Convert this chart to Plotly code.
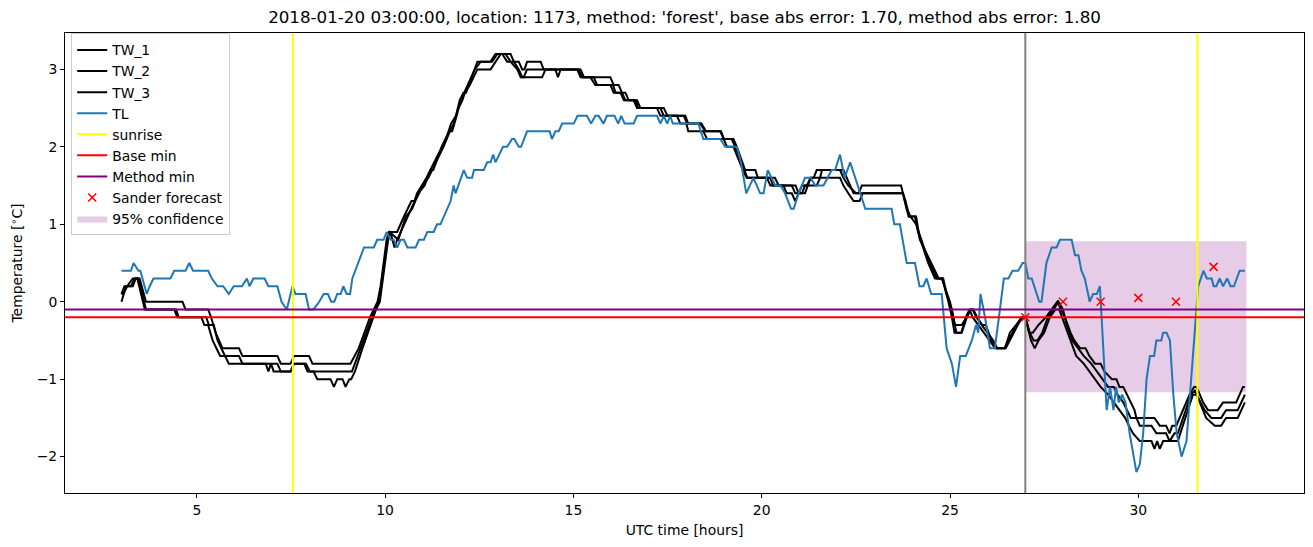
import plotly.graph_objects as go

# ---------------- data ----------------
tl_hours = [3.0,3.25,3.32,3.45,3.5,3.67,3.75,3.85,4.3,4.4,4.7,4.8,4.9,5.3,5.4,5.55,5.7,5.85,5.98,6.2,6.33,6.4,6.5,6.8,6.9,7.14,7.25,7.39,7.54,7.62,7.89,7.98,8.1,8.25,8.37,8.48,8.57,8.65,8.73,8.82,8.89,8.98,9.07,9.13,9.44,9.7,9.79,9.96,10.04,10.15,10.23,10.32,10.41,10.5,10.59,10.81,10.9,11.03,11.12,11.29,11.38,11.47,11.74,11.82,11.87,12.09,12.18,12.31,12.36,12.62,12.71,12.8,12.87,12.93,13.13,13.24,13.37,13.43,13.55,13.61,13.77,14.37,14.43,14.52,14.61,14.7,15.01,15.11,15.36,15.47,15.58,15.67,15.8,15.89,16.09,16.19,16.27,16.36,16.6,16.69,17.22,17.31,17.4,17.49,17.57,17.64,18.32,18.45,18.9,19.03,19.34,19.45,19.59,19.78,19.96,20.05,20.16,20.36,20.5,20.62,20.78,20.85,20.98,21.15,21.3,21.42,21.64,21.86,21.95,22.08,22.2,22.35,22.55,22.62,22.75,23.45,23.52,23.67,23.85,24.07,24.19,24.29,24.38,24.5,24.78,24.91,25.05,25.16,25.27,25.42,25.58,25.69,25.75,25.81,25.93,26.06,26.19,26.3,26.43,26.55,26.66,26.81,26.93,27.0,27.08,27.17,27.3,27.37,27.43,27.56,27.7,27.83,27.92,28.23,28.32,28.41,28.49,28.58,28.71,28.8,28.9,28.98,29.16,29.25,29.34,29.41,29.48,29.57,29.66,29.77,29.95,30.04,30.13,30.22,30.31,30.42,30.48,30.61,30.66,30.75,30.84,30.93,31.02,31.15,31.28,31.41,31.5,31.59,31.73,31.82,31.95,32.0,32.07,32.16,32.25,32.36,32.45,32.54,32.69,32.83]
tl_temp = [0.4,0.4,0.5,0.4,0.4,0.1,0.2,0.3,0.3,0.4,0.4,0.5,0.4,0.4,0.3,0.2,0.2,0.1,0.2,0.2,0.3,0.2,0.3,0.3,0.2,0.2,0.0,-0.1,0.2,0.1,0.1,-0.1,-0.1,0.0,0.1,0.1,0.0,0.0,0.1,0.1,0.2,0.1,0.1,0.3,0.7,0.7,0.8,0.8,0.9,0.8,0.8,0.7,0.8,0.8,0.7,0.7,0.8,0.8,0.9,0.9,1.0,1.0,1.3,1.5,1.4,1.7,1.6,1.6,1.7,1.7,1.8,1.8,1.9,1.8,2.0,2.0,2.1,2.1,2.0,2.0,2.2,2.2,2.1,2.2,2.2,2.3,2.3,2.4,2.4,2.3,2.4,2.4,2.3,2.4,2.4,2.3,2.4,2.3,2.3,2.4,2.4,2.3,2.4,2.3,2.4,2.3,2.3,2.1,2.1,2.0,2.0,1.8,1.4,1.6,1.4,1.4,1.7,1.5,1.5,1.4,1.2,1.2,1.4,1.6,1.6,1.5,1.5,1.7,1.7,1.9,1.6,1.8,1.5,1.4,1.2,1.2,1.0,1.0,0.5,0.5,0.2,0.2,0.3,0.1,0.1,-0.6,-0.8,-1.1,-0.7,-0.7,-0.5,-0.3,-0.4,0.1,-0.2,-0.6,-0.6,-0.2,0.3,0.3,0.4,0.4,0.5,0.5,0.3,0.3,0.1,0.0,0.0,0.5,0.7,0.7,0.8,0.8,0.6,0.6,0.4,0.3,0.0,0.1,0.1,0.2,-1.4,-1.1,-1.4,-1.1,-1.3,-1.2,-1.3,-1.7,-2.2,-2.1,-1.7,-1.0,-0.7,-0.7,-0.5,-0.5,-0.4,-0.4,-0.5,-1.2,-1.7,-2.0,-1.8,-1.0,-0.35,0.2,0.4,0.3,0.3,0.2,0.2,0.3,0.2,0.3,0.2,0.2,0.4,0.4]

tw1_hours = [3.0,3.08,3.3,3.38,3.48,3.58,3.65,4.62,4.7,5.3,5.38,5.5,5.6,5.68,6.12,6.21,7.14,7.23,7.49,7.58,7.98,8.07,9.08,9.3,9.45,9.6,9.7,9.8,9.88,9.96,10.04,10.1,10.32,10.5,10.7,10.78,10.85,11.1,11.2,11.28,11.5,11.7,11.78,11.9,12.0,12.1,12.2,12.3,12.38,12.54,12.8,12.93,13.33,13.42,13.55,13.64,13.7,13.77,14.13,14.21,15.14,15.23,15.54,15.63,15.98,16.07,16.25,16.34,16.6,16.69,17.22,17.31,17.93,18.02,18.37,18.5,18.9,18.99,19.25,19.34,19.42,19.48,19.56,19.83,19.9,20.14,20.23,20.8,20.89,20.98,21.07,21.2,21.3,21.38,21.46,22.17,22.25,22.35,22.44,22.57,22.66,23.7,23.8,23.9,24.07,24.15,24.42,24.5,24.6,24.78,24.86,25.0,25.13,25.31,25.44,25.53,25.6,25.7,25.84,26.0,26.15,26.25,26.45,26.55,26.65,26.77,26.9,27.0,27.1,27.2,27.35,27.55,27.7,27.85,27.95,28.05,28.2,28.3,28.45,28.6,28.7,28.85,29.0,29.1,29.3,29.42,29.5,29.6,29.7,29.8,29.9,29.95,30.43,30.57,30.74,30.83,30.9,31.01,31.36,31.48,31.55,31.72,31.85,32.11,32.25,32.6,32.78,32.83]
tw1_temp = [0.1,0.2,0.2,0.3,0.3,0.1,0.0,0.0,-0.1,-0.1,-0.2,-0.4,-0.5,-0.6,-0.6,-0.7,-0.7,-0.8,-0.8,-0.7,-0.7,-0.8,-0.8,-0.6,-0.4,-0.2,-0.1,0.0,0.2,0.5,0.8,0.9,0.9,1.1,1.3,1.3,1.4,1.6,1.7,1.7,2.0,2.2,2.2,2.4,2.6,2.7,2.8,2.9,3.0,3.1,3.1,3.2,3.2,3.1,3.1,3.0,3.0,3.1,3.1,3.0,3.0,2.9,2.9,2.8,2.8,2.7,2.7,2.6,2.6,2.5,2.5,2.4,2.4,2.3,2.3,2.2,2.2,2.1,2.1,2.0,1.9,1.8,1.7,1.7,1.6,1.6,1.5,1.5,1.4,1.4,1.5,1.5,1.6,1.6,1.7,1.7,1.6,1.5,1.4,1.4,1.5,1.5,1.3,1.1,1.1,0.9,0.5,0.4,0.3,0.3,0.2,0.0,-0.3,-0.3,-0.2,-0.1,-0.1,-0.2,-0.3,-0.4,-0.5,-0.6,-0.6,-0.5,-0.4,-0.3,-0.2,-0.2,-0.4,-0.4,-0.3,-0.2,-0.1,0.0,-0.1,-0.2,-0.4,-0.5,-0.6,-0.6,-0.7,-0.8,-0.8,-0.9,-1.0,-1.0,-1.1,-1.1,-1.2,-1.3,-1.4,-1.5,-1.5,-1.6,-1.6,-1.7,-1.6,-1.6,-1.2,-1.1,-1.1,-1.3,-1.4,-1.4,-1.3,-1.3,-1.1,-1.1]

tw2_hours = [3.0,3.12,3.25,3.35,3.45,3.55,3.65,4.4,4.48,5.12,5.2,5.3,5.42,5.52,5.62,6.12,6.21,7.14,7.23,7.49,7.58,7.9,8.0,9.12,9.35,9.5,9.65,9.73,9.83,9.9,9.98,10.06,10.12,10.35,10.55,10.72,10.8,11.0,11.15,11.25,11.45,11.55,11.72,11.82,11.95,12.05,12.12,12.25,12.35,12.45,12.8,12.93,13.07,13.2,13.33,13.51,13.6,13.68,13.77,14.52,14.59,14.66,15.19,15.28,15.98,16.07,16.2,16.29,16.38,16.69,16.78,17.31,17.4,17.75,17.84,18.0,18.05,18.45,18.55,18.99,19.08,19.25,19.33,19.4,19.5,19.6,20.35,20.45,20.58,20.66,20.8,20.89,20.98,21.15,21.22,21.3,22.08,22.17,22.3,22.44,22.6,22.68,23.75,23.85,23.95,24.1,24.45,24.55,24.65,24.8,24.9,25.05,25.17,25.31,25.45,25.55,25.62,25.72,25.86,25.95,26.1,26.23,26.46,26.59,26.75,26.92,27.0,27.12,27.22,27.32,27.45,27.6,27.75,27.88,28.0,28.1,28.25,28.4,28.55,28.75,28.9,29.05,29.2,29.35,29.45,29.6,29.7,29.8,29.95,30.04,30.35,30.48,30.74,30.83,30.96,31.05,31.4,31.5,31.55,31.76,31.94,32.2,32.33,32.64,32.83]
tw2_temp = [0.0,0.2,0.2,0.3,0.3,0.1,-0.1,-0.1,-0.2,-0.2,-0.3,-0.3,-0.5,-0.6,-0.7,-0.7,-0.8,-0.8,-0.9,-0.9,-0.8,-0.8,-0.9,-0.9,-0.6,-0.4,-0.2,-0.1,0.0,0.2,0.5,0.8,0.9,0.8,1.1,1.2,1.3,1.5,1.6,1.7,1.9,2.0,2.2,2.3,2.5,2.6,2.7,2.8,2.9,3.0,3.0,3.1,3.2,3.2,3.1,3.0,2.9,2.9,3.0,3.0,2.9,3.0,3.0,2.9,2.9,2.8,2.8,2.7,2.6,2.6,2.5,2.5,2.4,2.4,2.3,2.3,2.2,2.2,2.1,2.1,2.0,2.0,1.9,1.8,1.7,1.6,1.6,1.5,1.5,1.4,1.4,1.3,1.4,1.4,1.5,1.6,1.6,1.5,1.4,1.3,1.3,1.4,1.4,1.2,1.1,1.0,0.5,0.4,0.3,0.3,0.1,-0.1,-0.4,-0.4,-0.2,-0.1,-0.1,-0.2,-0.3,-0.3,-0.5,-0.6,-0.6,-0.4,-0.3,-0.2,-0.2,-0.4,-0.5,-0.5,-0.4,-0.2,-0.1,0.0,-0.1,-0.3,-0.5,-0.6,-0.7,-0.8,-0.9,-1.0,-1.1,-1.1,-1.2,-1.3,-1.4,-1.5,-1.5,-1.6,-1.6,-1.7,-1.7,-1.8,-1.7,-1.7,-1.2,-1.15,-1.2,-1.4,-1.5,-1.5,-1.4,-1.4,-1.2]

tw3_hours = [3.0,3.05,3.15,3.3,3.42,3.52,3.62,4.45,4.52,5.25,5.32,5.45,5.55,5.65,5.75,5.85,6.83,6.9,6.97,7.04,7.49,7.58,7.85,7.94,8.1,8.2,8.55,8.64,8.73,8.87,8.95,9.05,9.1,9.2,9.4,9.55,9.68,9.76,9.86,9.92,10.0,10.08,10.14,10.2,10.25,10.32,10.5,10.68,10.88,11.05,11.2,11.3,11.5,11.62,11.75,11.88,11.98,12.08,12.15,12.22,12.3,12.45,12.84,12.98,13.11,13.24,13.42,13.55,13.64,14.17,14.26,15.1,15.19,15.45,15.58,16.05,16.12,16.38,16.47,16.65,16.72,17.4,17.5,17.97,18.05,18.4,18.52,18.92,19.0,19.2,19.3,19.38,19.45,19.52,19.62,20.23,20.3,20.9,20.98,21.07,21.15,21.46,21.55,21.6,22.08,22.17,22.3,22.5,22.75,23.75,23.82,23.92,24.1,24.2,24.4,24.5,24.58,24.7,24.82,24.92,25.05,25.12,25.3,25.42,25.52,25.6,25.75,25.9,26.05,26.2,26.48,26.58,26.7,26.8,26.92,27.0,27.15,27.25,27.35,27.5,27.65,27.8,27.9,28.05,28.2,28.35,28.55,28.7,28.85,29.0,29.2,29.35,29.5,29.65,29.75,29.86,30.04,30.35,30.43,30.5,30.57,30.66,30.96,31.05,31.45,31.55,31.8,32.03,32.2,32.33,32.64,32.73,32.83]
tw3_temp = [0.1,0.1,0.2,0.3,0.3,0.1,-0.1,-0.1,-0.2,-0.2,-0.3,-0.3,-0.5,-0.6,-0.7,-0.8,-0.8,-0.9,-0.8,-0.9,-0.9,-0.8,-0.8,-0.9,-0.9,-1.0,-1.0,-1.1,-1.0,-1.0,-1.1,-1.0,-1.0,-0.9,-0.6,-0.4,-0.2,-0.1,0.0,0.2,0.5,0.8,0.9,0.8,0.7,0.8,1.0,1.2,1.4,1.5,1.7,1.8,2.0,2.1,2.3,2.4,2.6,2.7,2.7,2.8,2.9,3.1,3.1,3.2,3.2,3.1,3.1,3.0,2.9,2.9,3.0,3.0,2.9,2.9,2.8,2.8,2.7,2.7,2.6,2.6,2.5,2.5,2.4,2.4,2.3,2.3,2.2,2.2,2.1,2.1,2.0,1.9,1.8,1.7,1.6,1.6,1.5,1.5,1.4,1.4,1.5,1.5,1.6,1.7,1.7,1.6,1.5,1.4,1.4,1.4,1.3,1.1,1.1,0.8,0.6,0.5,0.4,0.3,0.3,0.1,-0.2,-0.4,-0.4,-0.2,-0.1,-0.2,-0.3,-0.4,-0.5,-0.6,-0.6,-0.5,-0.4,-0.3,-0.2,-0.2,-0.5,-0.6,-0.5,-0.4,-0.2,-0.1,-0.1,-0.3,-0.5,-0.7,-0.8,-0.9,-1.0,-1.1,-1.2,-1.3,-1.4,-1.5,-1.6,-1.7,-1.8,-1.8,-1.9,-1.8,-1.9,-1.8,-1.8,-1.8,-1.2,-1.2,-1.5,-1.6,-1.6,-1.5,-1.5,-1.4,-1.3]

sunrise_hours = [7.55, 31.57]
now_hour = 27.0
base_min = -0.2
method_min = -0.1
sander_hours = [27, 28, 29, 30, 31, 32]
sander_temp = [-0.2, 0.0, 0.0, 0.05, 0.0, 0.45]
conf_hours = [27.0, 32.87]
conf_low, conf_high = -1.17, 0.78

x_range = [1.5, 34.4]
y_range = [-2.47, 3.47]
x_ticks = [5, 10, 15, 20, 25, 30]
y_ticks = [-2, -1, 0, 1, 2, 3]
title_text = "2018-01-20 03:00:00, location: 1173, method: 'forest', base abs error: 1.70, method abs error: 1.80"

FONT = "DejaVu Sans"
fig = go.Figure()

# confidence band (drawn first so it sits underneath)
fig.add_trace(go.Scatter(
    x=[conf_hours[0], conf_hours[1], conf_hours[1], conf_hours[0], conf_hours[0]],
    y=[conf_low, conf_low, conf_high, conf_high, conf_low],
    fill="toself", fillcolor="rgba(128,0,128,0.2)", mode="lines",
    line=dict(width=0, color="rgba(128,0,128,0)"),
    name="95% confidence", legendrank=9, hoverinfo="skip"))

for nm, xs, ys, rk in [("TW_1", tw1_hours, tw1_temp, 1), ("TW_2", tw2_hours, tw2_temp, 2),
                       ("TW_3", tw3_hours, tw3_temp, 3)]:
    fig.add_trace(go.Scatter(x=xs, y=ys, mode="lines", name=nm, legendrank=rk,
                             line=dict(color="black", width=2)))

fig.add_trace(go.Scatter(x=tl_hours, y=tl_temp, mode="lines", name="TL", legendrank=4,
                         line=dict(color="#1f77b4", width=2)))

# gray "now" line
fig.add_trace(go.Scatter(x=[now_hour, now_hour], y=y_range, mode="lines", showlegend=False,
                         line=dict(color="gray", width=2), hoverinfo="skip"))

sx, sy = [], []
for h in sunrise_hours:
    sx += [h, h, None]
    sy += [y_range[0], y_range[1], None]
fig.add_trace(go.Scatter(x=sx, y=sy, mode="lines", name="sunrise", legendrank=5,
                         line=dict(color="yellow", width=2)))
fig.add_trace(go.Scatter(x=x_range, y=[base_min, base_min], mode="lines", name="Base min",
                         legendrank=6, line=dict(color="red", width=2)))
fig.add_trace(go.Scatter(x=x_range, y=[method_min, method_min], mode="lines", name="Method min",
                         legendrank=7, line=dict(color="purple", width=2)))
fig.add_trace(go.Scatter(x=sander_hours, y=sander_temp, mode="markers", name="Sander forecast",
                         legendrank=8,
                         marker=dict(symbol="x-thin", size=8, color="red",
                                     line=dict(color="red", width=1.5))))

axis_common = dict(showgrid=False, zeroline=False, showline=True, linecolor="black",
                   linewidth=1, mirror=True, ticks="outside", ticklen=4, tickwidth=1,
                   tickcolor="black", tickfont=dict(family=FONT, size=13.9, color="black"))

fig.update_layout(
    width=1313, height=547,
    margin=dict(l=65, r=9, t=33, b=54),
    paper_bgcolor="white", plot_bgcolor="white",
    font=dict(family=FONT, size=13.9, color="black"),
    title=dict(text=title_text, x=(65 + 1304) / 2 / 1313, xanchor="center",
               y=1 - 17 / 547, yanchor="middle", font=dict(family=FONT, size=16.7)),
    xaxis=dict(range=x_range, tickvals=x_ticks,
               title=dict(text="UTC time [hours]", font=dict(family=FONT, size=13.9), standoff=8),
               **axis_common),
    yaxis=dict(range=y_range, tickvals=y_ticks,
               title=dict(text="Temperature [<sup>∘</sup>C]", font=dict(family=FONT, size=13.9), standoff=10),
               **axis_common),
    legend=dict(x=0.005, y=0.999, xanchor="left", yanchor="top",
                bgcolor="rgba(255,255,255,0.8)", bordercolor="#cccccc", borderwidth=1,
                font=dict(family=FONT, size=13.9), tracegroupgap=0),
    showlegend=True,
)

fig.write_html("out.html")
